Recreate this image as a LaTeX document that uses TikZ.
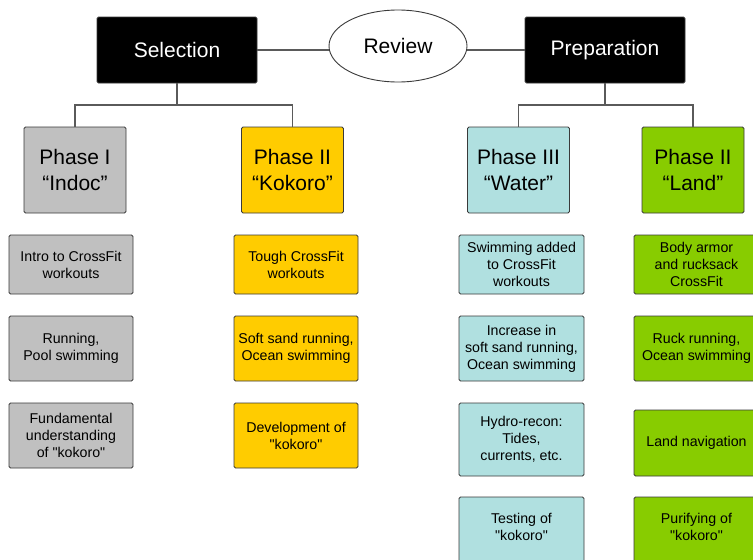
\documentclass[tikz,border=0pt]{standalone}
\usepackage{fontspec}
\setmainfont{Liberation Sans}[Ligatures=TeXOff]
\usetikzlibrary{shapes.geometric}
\definecolor{boxgrey}{HTML}{C0C0C0}
\definecolor{boxyellow}{HTML}{FFCC00}
\definecolor{boxcyan}{HTML}{B0E0E0}
\definecolor{boxgreen}{HTML}{88CC00}
\definecolor{edgecol}{HTML}{3A3A3A}
\definecolor{linecol}{HTML}{5A5A5A}
\tikzset{
  head/.style={draw=edgecol, fill=black, text=white, line width=0.9pt, rounded corners=1.5pt,
    minimum width=160pt, minimum height=66pt, inner sep=0pt, font=\fontsize{21}{24}\selectfont},
  phase/.style={draw=edgecol, line width=0.9pt, rounded corners=1.5pt, align=center,
    minimum width=102pt, minimum height=86pt, inner sep=0pt, font=\fontsize{21}{26}\selectfont},
  detail/.style={draw=edgecol, line width=0.9pt, rounded corners=1.5pt, align=center,
    minimum width=124pt, inner sep=0pt, font=\fontsize{14.2}{17}\selectfont},
  lowrow/.style={minimum width=125pt, minimum height=78pt, text depth=17.5pt},
  conn/.style={draw=linecol, line width=1.1pt},
}
\begin{document}
\begin{tikzpicture}[x=1pt, y=-1pt]
\useasboundingbox (0,0) rectangle (753,560);
\clip (0,0) rectangle (753,560);
\fill[white] (0,0) rectangle (753,560);
% headers
\node[head] (sel) at (177,50) {Selection};
\node[head] (prep) at (605,50) {Preparation};
\node[draw=edgecol, line width=0.9pt, ellipse, fill=white, minimum width=138pt, minimum height=72pt, inner sep=0pt,
  font=\fontsize{21}{24}\selectfont] (rev) at (398,46) {Review};
% phases
\node[phase, fill=boxgrey] (p1) at (75,170) {Phase I\\“Indoc”};
\node[phase, fill=boxyellow] (p2) at (292.5,170) {Phase II\\“Kokoro”};
\node[phase, fill=boxcyan] (p3) at (518.5,170) {Phase III\\“Water”};
\node[phase, fill=boxgreen] (p4) at (693,170) {Phase II\\“Land”};
% connectors
\draw[conn] (sel.east) -- (rev.west |- sel.east);
\draw[conn] (rev.east |- prep.west) -- (prep.west);
\coordinate (j1) at (177,105);
\coordinate (j2) at (605,105);
\draw[conn] (sel.south) -- (j1);
\draw[conn] (j1) -| (p1.north);
\draw[conn] (j1) -| (p2.north);
\draw[conn] (prep.south) -- (j2);
\draw[conn] (j2) -| (p3.north);
\draw[conn] (j2) -| (p4.north);
% grey details
\node[detail, fill=boxgrey, minimum height=59pt] (g1) at (71,264.5) {Intro to CrossFit\\workouts};
\node[detail, fill=boxgrey, minimum height=65pt] (g2) at (71,348.5) {Running,\\Pool swimming};
\node[detail, fill=boxgrey, minimum height=65pt] (g3) at (71,435.5) {Fundamental\\understanding\\of "kokoro"};
% yellow details
\node[detail, fill=boxyellow, minimum height=59pt] (y1) at (296,264.5) {Tough CrossFit\\workouts};
\node[detail, fill=boxyellow, minimum height=65pt] (y2) at (296,348.5) {Soft sand running,\\Ocean swimming};
\node[detail, fill=boxyellow, minimum height=65pt] (y3) at (296,435.5) {Development of\\"kokoro"};
% cyan details
\node[detail, fill=boxcyan, minimum width=125pt, minimum height=59pt] (c1) at (521.5,264.5) {Swimming added\\to CrossFit\\workouts};
\node[detail, fill=boxcyan, minimum width=125pt, minimum height=65pt] (c2) at (521.5,348.5) {Increase in\\soft sand running,\\Ocean swimming};
\node[detail, fill=boxcyan, minimum width=125pt, minimum height=73pt] (c3) at (521.5,439.5) {Hydro-recon:\\Tides,\\currents, etc.};
\node[detail, fill=boxcyan, lowrow] (c4) at (521.5,536) {Testing of\\"kokoro"};
% green details
\node[detail, fill=boxgreen, minimum width=125pt, minimum height=59pt] (d1) at (696.5,264.5) {Body armor\\and rucksack\\CrossFit};
\node[detail, fill=boxgreen, minimum width=125pt, minimum height=65pt] (d2) at (696.5,348.5) {Ruck running,\\Ocean swimming};
\node[detail, fill=boxgreen, minimum width=125pt, minimum height=66pt] (d3) at (696.5,443) {Land navigation};
\node[detail, fill=boxgreen, lowrow] (d4) at (696.5,536) {Purifying of\\"kokoro"};
\end{tikzpicture}
\end{document}
